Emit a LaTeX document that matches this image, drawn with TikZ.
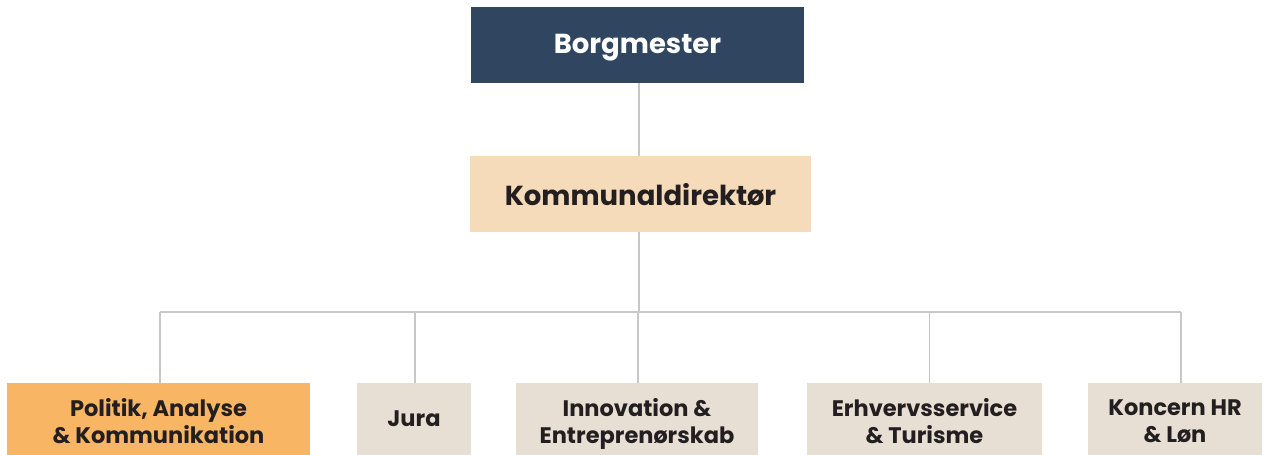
\documentclass[tikz,border=0pt]{standalone}
\usepackage{fontspec}
\setmainfont{Poppins}
\definecolor{navy}{HTML}{2F4560}
\definecolor{beige}{HTML}{F5DBB9}
\definecolor{orange}{HTML}{F8B664}
\definecolor{sand}{HTML}{E8DFD4}
\definecolor{linegray}{HTML}{C8C8C8}
\definecolor{ink}{HTML}{231F20}
\begin{document}
\begin{tikzpicture}[x=1pt,y=-1pt,
  shape box/.style={inner sep=0pt,outer sep=0pt,rectangle},
  topbox/.style={shape box,minimum height=76pt},
  child/.style={shape box,fill=sand,minimum height=72pt},
  toptxt/.style={inner sep=0pt,align=center,text=ink,font=\bfseries\fontsize{27.5}{30}\selectfont},
  childtxt/.style={inner sep=0pt,align=center,text=ink,font=\bfseries\fontsize{22.5}{27}\selectfont},
  conn/.style={draw=linegray,line width=1.6pt}]
\useasboundingbox (0,0) rectangle (1272,455);
\node[topbox,fill=navy,minimum width=333pt] (b) at (637.5,45) {};
\node[toptxt,text=white] (bt) at ([yshift=-2.5pt]b.center) {Borgmester};
\node[topbox,fill=beige,minimum width=341pt] (k) at (640.5,194) {};
\node[toptxt] (kt) at ([yshift=-0.5pt]k.center) {Kommunaldirektør};
\node[child,fill=orange,minimum width=303pt] (c1) at (158.5,419) {};
\node[childtxt] (t1) at ([yshift=-2pt]c1.center) {Politik, Analyse\\\& Kommunikation};
\node[child,minimum width=114pt] (c2) at (414,419) {};
\node[childtxt] (t2) at (c2.center) {Jura};
\node[child,minimum width=242pt] (c3) at (637,419) {};
\node[childtxt] (t3) at ([yshift=-4.5pt]c3.center) {Innovation \&\\Entreprenørskab};
\node[child,minimum width=235pt] (c4) at (924.5,419) {};
\node[childtxt] (t4) at ([yshift=-2pt]c4.center) {Erhvervsservice\\\& Turisme};
\node[child,minimum width=174pt] (c5) at (1175,419) {};
\node[childtxt] (t5) at ([yshift=-2pt]c5.center) {Koncern HR\\\& Løn};
\coordinate (d1) at (160,312);
\coordinate (d2) at (415,312);
\coordinate (d3) at (638,312);
\coordinate (d4) at (929.5,312);
\coordinate (d5) at (1181,312);
\coordinate (bus) at (639,312);
\draw[conn] (b.south -| bus) -- (k.north -| bus);
\draw[conn] (k.south -| bus) -- (bus);
\draw[conn] (d1) -- (d5);
\draw[conn] (d1) -- (d1 |- c1.north);
\draw[conn] (d2) -- (d2 |- c2.north);
\draw[conn] (d3) -- (d3 |- c3.north);
\draw[conn] (d4) -- (d4 |- c4.north);
\draw[conn] (d5) -- (d5 |- c5.north);
\end{tikzpicture}
\end{document}
